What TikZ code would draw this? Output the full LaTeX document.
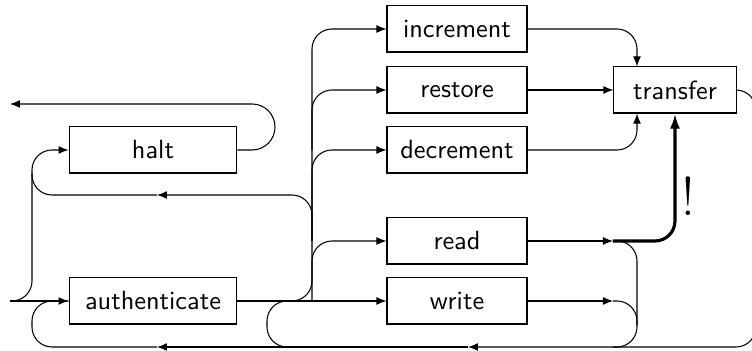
\documentclass[tikz,border=0pt]{standalone}
\usepackage{tikz}
\usetikzlibrary{arrows.meta, positioning}

\begin{document}
\begin{tikzpicture}[x=0.38pt, y=-0.38pt, >={Latex[length=3.8pt, width=3pt]},
    line width=0.4pt, rounded corners=7.6pt,
    stagebox/.style={draw, sharp corners, minimum width=53.2pt, minimum height=17.5pt, inner sep=0pt, font=\sffamily},
    widebox/.style={stagebox, minimum width=63.8pt},
    mustpath/.style={line width=1.2pt, -{Latex[length=5.7pt, width=3.8pt]}}]
    \useasboundingbox (0,0) rectangle (752,351);

    % rails and turning points
    \coordinate (start) at (10,301);
    \coordinate (finish) at (10,104);
    \coordinate (railA) at (32,0);
    \coordinate (shortloop) at (267,0);
    \coordinate (railB) at (312,0);
    \coordinate (railC) at (637,0);
    \coordinate (railD) at (756,0);
    \coordinate (back) at (0,347);
    \coordinate (haltret) at (275,104);
    \coordinate (haltarrow) at (157,195);
    \coordinate (backarrow) at (468,347);
    \coordinate (authloop) at (157,347);
    \coordinate (readout) at (613,241);
    \coordinate (writeout) at (613,301);
    \coordinate (writedown) at (637,325);
    \coordinate (merge) at (613,347);

    \node[widebox] (halt) at (153,150) {halt};
    \node[widebox] (auth) at (153,301) {authenticate};
    \node[stagebox] (increment) at (457,29) {increment};
    \node[stagebox] (restore) at (457,90) {restore};
    \node[stagebox] (decrement) at (457,150) {decrement};
    \node[stagebox] (read) at (457,241) {read};
    \node[stagebox] (write) at (457,301) {write};
    \node[stagebox, minimum width=46.4pt] (transfer) at (675,90) {transfer};

    % entry, halt
    \draw[->] (start) -- (auth.west);
    \draw[->] (start) -| (railA |- halt.west) -- (halt.west);
    \draw[->, rounded corners=8.7pt] (halt.east) -| (haltret) -- (finish);

    % fan out after authenticate
    \draw[->] (auth.east) -| (railB |- increment.west) -- (increment.west);
    \draw[->] (railB |- decrement.west) |- (restore.west);
    \draw[->] (railB |- read.west) |- (decrement.west);
    \draw[->] (railB |- write.west) |- (read.west);
    \draw[->] (auth.east) -- (write.west);
    \draw[->] (railB |- read.west) |- (haltarrow);
    \draw (haltarrow) -| (railA |- halt.south);

    % into transfer
    \draw[->] (increment.east) -| (railC |- transfer.north);
    \draw[->] (restore.east) -- (transfer.west);
    \draw[->] (decrement.east) -| (railC |- transfer.south);
    \draw[->] (read.east) -- (readout);
    \draw[->] (write.east) -- (writeout);
    \draw[mustpath] (readout) -| (transfer.south);
    \node[font=\huge] (bang) at (688,196) {!};

    % read/write merge and the way back
    \draw (readout) -| (railC |- back) -- (merge);
    \draw (writeout) -| (writedown);
    \draw[->] (transfer.east) -| (railD |- back) -- (backarrow);
    \draw[->] (backarrow) -- (authloop);
    \draw (authloop) -| (railA |- auth.west) -- (auth.west);
    \draw (backarrow) -| (shortloop |- auth.east) -- (railB |- auth.east);
\end{tikzpicture}
\end{document}
